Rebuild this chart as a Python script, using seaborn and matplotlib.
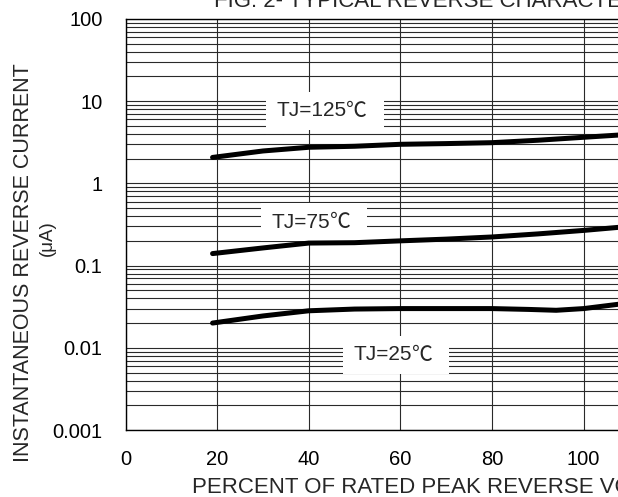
import matplotlib
matplotlib.use("Agg")
import matplotlib.pyplot as plt
import matplotlib.ticker as mticker
import pandas as pd
import seaborn as sns

# Curve readings (percent of rated voltage, reverse current in uA)
x_125 = [19, 30, 40, 50, 60, 70, 80, 90, 100, 110]
y_125 = [2.07, 2.48, 2.75, 2.83, 2.99, 3.05, 3.13, 3.35, 3.64, 3.95]

x_75 = [19, 30, 40, 50, 60, 70, 80, 90, 100, 110]
y_75 = [0.14, 0.164, 0.188, 0.19, 0.2, 0.21, 0.223, 0.243, 0.268, 0.30]

x_25 = [19, 30, 40, 50, 60, 70, 80, 88, 94, 100, 110]
y_25 = [0.020, 0.0244, 0.0282, 0.0296, 0.030, 0.030, 0.030, 0.0293, 0.0286, 0.0300, 0.0352]

labels = ["TJ=125", "TJ=75", "TJ=25"]
label_x = [32.9, 31.8, 49.7]
label_y = [7.6, 0.339, 0.0082]

x_ticks = [0, 20, 40, 60, 80, 100]
y_ticks = [0.001, 0.01, 0.1, 1, 10, 100]
y_tick_labels = ["0.001", "0.01", "0.1", "1", "10", "100"]

sns.set_theme(style="white")
plt.rcParams["font.family"] = ["Liberation Sans", "Noto Sans CJK SC", "DejaVu Sans"]

fig = plt.figure(figsize=(6.18, 4.97), dpi=100)
ax = fig.add_axes([125.5 / 618, 67 / 497, 504 / 618, 411 / 497])

for xs, ys in [(x_125, y_125), (x_75, y_75), (x_25, y_25)]:
    df = pd.DataFrame({"x": xs, "y": ys})
    sns.lineplot(data=df, x="x", y="y", ax=ax, color="black", lw=3.6,
                 solid_capstyle="round", zorder=4)

ax.set_yscale("log")
ax.set_xlim(0, 110)
ax.set_ylim(0.001, 100)

ax.set_xticks(x_ticks)
ax.set_yticks(y_ticks)
ax.set_yticklabels(y_tick_labels)
ax.yaxis.set_minor_locator(mticker.LogLocator(base=10, subs=range(2, 10)))
ax.yaxis.set_minor_formatter(mticker.NullFormatter())
ax.tick_params(axis="both", which="both", length=0, labelsize=14.5, colors="black")
ax.tick_params(axis="y", pad=16.5)
ax.tick_params(axis="x", pad=14.5)

ax.grid(True, which="major", axis="both", color="#2a2a2a", lw=0.8)
ax.grid(True, which="minor", axis="y", color="#2a2a2a", lw=0.8)
ax.set_axisbelow(True)
for s in ax.spines.values():
    s.set_color("black")
    s.set_linewidth(1.0)

ax.set_xlabel("")
ax.set_ylabel("")

# white box behind each label, then the text, then a thin degree sign
for t, lx, ly in zip(labels, label_x, label_y):
    ax.text(lx, ly, " " * (len(t) * 2 + 5), fontsize=15, ha="left", va="center",
            zorder=3, bbox=dict(facecolor="white", edgecolor="none", pad=7))
    txt = ax.text(lx, ly, t, fontsize=15, ha="left", va="center", zorder=3.5)
    ax.annotate("℃", xy=(1, 0.5), xycoords=txt, xytext=(0, 0),
                textcoords="offset points", fontsize=15, ha="left", va="center",
                family=["Noto Sans CJK SC"], fontweight="light", zorder=3.5)

fig.text(214 / 618, 1 - 6.7 / 497, "FIG. 2- TYPICAL REVERSE CHARACTERISTICS",
         fontsize=16, ha="left", va="baseline")
fig.text(192 / 618, 3.7 / 497, "PERCENT OF RATED PEAK REVERSE VOLTAGE,(%)",
         fontsize=16, ha="left", va="baseline")
fig.text(24 / 618, 1 - 263 / 497, "INSTANTANEOUS REVERSE CURRENT",
         fontsize=15.5, rotation=90, ha="center", va="center")
fig.text(47 / 618, 1 - 238 / 497, "(μA)",
         fontsize=13.5, rotation=90, ha="center", va="center")

fig.savefig("out.png", dpi=100)
